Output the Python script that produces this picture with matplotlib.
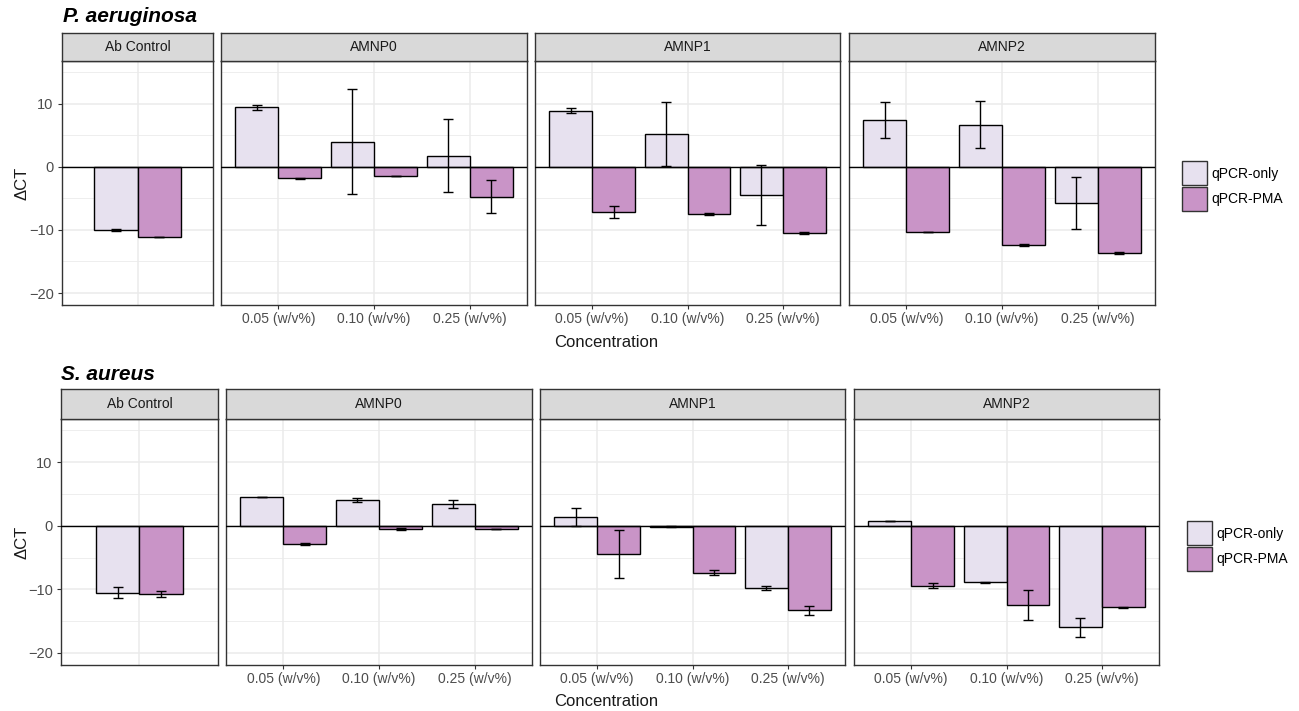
import numpy as np
import matplotlib.pyplot as plt
from matplotlib.patches import Patch

plt.rcParams['font.family'] = ['Liberation Sans', 'DejaVu Sans']

W, H = 1299, 711

groups = ['Ab Control', 'AMNP0', 'AMNP1', 'AMNP2']
conc = ['0.05 (w/v%)', '0.10 (w/v%)', '0.25 (w/v%)']
series = ['qPCR-only', 'qPCR-PMA']
colors = ['#E7E1EF', '#C994C7']

# P. aeruginosa (one list per facet)
pa_only = [[-10.0], [9.5, 4.0, 1.75], [8.9, 5.2, -4.45], [7.45, 6.7, -5.75]]
pa_only_sd = [[0.1], [0.4, 8.3, 5.8], [0.4, 5.1, 4.8], [2.9, 3.7, 4.15]]
pa_pma = [[-11.1], [-1.8, -1.5, -4.7], [-7.1, -7.5, -10.5], [-10.4, -12.4, -13.7]]
pa_pma_sd = [[0.0], [0.1, 0.0, 2.65], [0.95, 0.2, 0.1], [0.0, 0.1, 0.15]]

# S. aureus
sa_only = [[-10.5], [4.55, 4.1, 3.45], [1.35, -0.15, -9.75], [0.8, -8.9, -16.0]]
sa_only_sd = [[0.8], [0.0, 0.3, 0.65], [1.45, 0.05, 0.3], [0.0, 0.1, 1.5]]
sa_pma = [[-10.7], [-2.85, -0.5, -0.5], [-4.4, -7.35, -13.3], [-9.4, -12.45, -12.8]]
sa_pma_sd = [[0.5], [0.15, 0.1, 0.05], [3.8, 0.45, 0.7], [0.4, 2.4, 0.1]]

fig = plt.figure(figsize=(W / 100, H / 100), dpi=100)


def fx(px):
    return px / W


def fy(py):
    return 1 - py / H


def draw_row(title, only, only_sd, pma, pma_sd, panels, strip_top, strip_bot,
             panel_bot, title_xy, label_y, xlab_y, legend_xy):
    width = 0.45
    for i, g in enumerate(groups):
        x0, x1 = panels[i]
        n = len(only[i])
        ax = fig.add_axes([fx(x0), fy(panel_bot), fx(x1) - fx(x0), fy(strip_bot) - fy(panel_bot)])
        pos = np.arange(1, n + 1)
        for k, (m, s) in enumerate([(only[i], only_sd[i]), (pma[i], pma_sd[i])]):
            xs = pos + (k - 0.5) * width
            ax.bar(xs, m, width=width, color=colors[k], edgecolor='black',
                   linewidth=1.0, zorder=2, label=series[k])
            ax.errorbar(xs, m, yerr=s, fmt='none', ecolor='black', elinewidth=1.0,
                        capsize=3.4, capthick=1.0, zorder=4)
        ax.axhline(0, color='black', linewidth=1.0, zorder=3)
        ax.set_ylim(-21.9, 16.8)
        if n == 1:
            half = (x1 - x0) / 96 / 2
            ax.set_xlim(1 - half, 1 + half)
            ax.set_xticks([1])
            ax.set_xticklabels([''])
            ax.tick_params(axis='x', length=0)
        else:
            ax.set_xlim(0.4, 3.6)
            ax.set_xticks(pos)
            ax.set_xticklabels(conc)
            ax.tick_params(axis='x', length=3, width=0.8, color='#333333',
                           labelsize=10, labelcolor='#4D4D4D', pad=2)
        ax.set_yticks([-20, -10, 0, 10])
        ax.set_yticks([-15, -5, 5, 15], minor=True)
        if i == 0:
            ax.tick_params(axis='y', length=3, width=0.8, color='#333333',
                           labelsize=10.5, labelcolor='#4D4D4D', pad=3)
        else:
            ax.tick_params(axis='y', length=0, labelleft=False)
        ax.tick_params(axis='y', which='minor', length=0)
        ax.grid(True, which='major', color='#EBEBEB', linewidth=1.1)
        ax.grid(True, which='minor', axis='y', color='#EBEBEB', linewidth=0.6)
        ax.set_axisbelow(True)
        for sp in ax.spines.values():
            sp.set_color('#333333')
            sp.set_linewidth(1.0)

        # facet strip
        sax = fig.add_axes([fx(x0), fy(strip_bot), fx(x1) - fx(x0), fy(strip_top) - fy(strip_bot)])
        sax.set_facecolor('#D9D9D9')
        sax.set_xticks([])
        sax.set_yticks([])
        for sp in sax.spines.values():
            sp.set_color('#333333')
            sp.set_linewidth(1.0)
        sax.text(0.5, 0.5, g, ha='center', va='center', fontsize=10, color='#1A1A1A',
                 transform=sax.transAxes)

    handles = [Patch(facecolor=colors[k], edgecolor='#333333', linewidth=1.0,
                     label=series[k]) for k in range(2)]

    fig.text(fx(title_xy[0]), fy(title_xy[1]), title, fontsize=15, fontweight='bold',
             fontstyle='italic', ha='left', va='center')
    fig.text(fx(22), fy(label_y), '\u0394CT', rotation=90, fontsize=12, color='#1A1A1A',
             ha='center', va='center')
    fig.text(fx(606), fy(xlab_y), 'Concentration', fontsize=12, color='#1A1A1A',
             ha='center', va='center')
    fig.legend(handles=handles, loc='center left',
               bbox_to_anchor=(fx(legend_xy[0]), fy(legend_xy[1])),
               frameon=False, fontsize=10, handlelength=1.8, handleheight=2.3,
               handletextpad=0.3, labelspacing=0.1, borderaxespad=0, borderpad=0)


draw_row('P. aeruginosa', pa_only, pa_only_sd, pa_pma, pa_pma_sd,
         [(62, 213), (221, 527), (535, 840), (849, 1155)],
         33, 61, 305, (63, 17), 183, 343, (1182, 186))

draw_row('S. aureus', sa_only, sa_only_sd, sa_pma, sa_pma_sd,
         [(61, 218), (226, 532), (540, 845), (854, 1159)],
         389, 419, 665, (61, 375), 542, 701, (1187, 546))

fig.savefig('out.png', dpi=100)
